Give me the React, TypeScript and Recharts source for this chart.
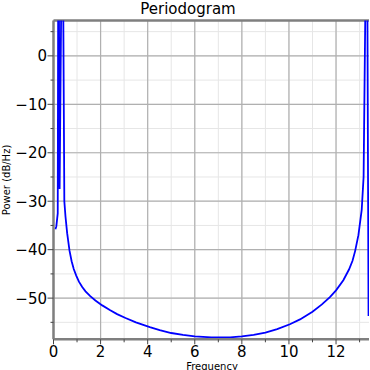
import { CartesianGrid, Line, LineChart, ReferenceLine, XAxis, YAxis } from "recharts";

const freq = [
	0.08, 0.12, 0.18, 0.21, 0.26, 0.38, 0.46, 0.51, 0.58, 0.68, 0.77, 0.86, 0.97,
	1.08, 1.22, 1.36, 1.56, 1.78, 2.07, 2.41, 2.7, 3.06, 3.5, 4.09, 4.51, 5.0,
	5.5, 6.0, 6.7, 7.5, 8.0, 8.5, 9.0, 9.5, 10.04, 10.47, 11.0, 11.4, 11.74,
	12.0, 12.31, 12.55, 12.7, 12.81, 12.95, 13.09, 13.17, 13.31, 13.38,
];
const power = [
	-35.8, -35.2, -32.5, 40, -27.5, 40, -30.0, -33.2, -36.6, -40.2, -42.4, -44.0,
	-45.4, -46.6, -47.7, -48.6, -49.6, -50.5, -51.5, -52.5, -53.3, -54.1, -55.0,
	-56.0, -56.6, -57.2, -57.6, -57.9, -58.1, -58.1, -57.9, -57.6, -57.1, -56.4,
	-55.4, -54.4, -52.8, -51.3, -49.8, -48.4, -46.3, -44.1, -42.3, -40.3, -37.0,
	-31.8, -25, 40, -53.7,
];

const xTicks = [0, 1, 2, 3, 4, 5, 6, 7, 8, 9, 10, 11, 12, 13];
const yTicks = [-55, -50, -45, -40, -35, -30, -25, -20, -15, -10, -5, 0, 5];
const xMajor = [0, 2, 4, 6, 8, 10, 12];
const yMajor = [-50, -40, -30, -20, -10, 0];

const data = freq.map((f, i) => ({ f, power: power[i] }));

const font = "DejaVu Sans";
const spine = "#7f7f7f";

const fmt = (v: number) => (v < 0 ? `\u2212${-v}` : `${v}`);

function XTick({ x, y, payload }: any) {
	const v = payload.value;
	const major = v % 2 === 0;
	return (
		<g>
			<line x1={x} x2={x} y1={y} y2={y + (major ? 5 : 3)} stroke="#444" strokeWidth={1} />
			{major && (
				<text x={x} y={y + 18} textAnchor="middle" fontSize={15} fontFamily={font} fill="#000">
					{v}
				</text>
			)}
		</g>
	);
}

function YTick({ x, y, payload }: any) {
	const v = payload.value;
	const major = v % 10 === 0;
	return (
		<g>
			<line x1={x - (major ? 6 : 3)} x2={x} y1={y} y2={y} stroke="#444" strokeWidth={1} />
			{major && (
				<text x={x - 6.5} y={y + 5.4} textAnchor="end" fontSize={15} fontFamily={font} fill="#000">
					{fmt(v)}
				</text>
			)}
		</g>
	);
}

export default function App() {
	return (
		<div style={{ position: "absolute", left: 0, top: 0, width: 370, height: 370, background: "#fff" }}>
			<LineChart
				width={370}
				height={370}
				data={data}
				margin={{ top: 20.5, right: 1, bottom: 0, left: 0 }}
			>
				<CartesianGrid
					stroke="#e6e6e6"
					strokeWidth={1}
					verticalValues={xTicks}
					horizontalValues={yTicks}
				/>
				<CartesianGrid
					stroke="#b0b0b0"
					strokeWidth={1.2}
					verticalValues={xMajor}
					horizontalValues={yMajor}
				/>
				<XAxis
					dataKey="f"
					type="number"
					domain={[0, 13.4]}
					ticks={xTicks}
					allowDataOverflow
					interval={0}
					tickSize={0}
					tickMargin={0}
					tickLine={false}
					axisLine={{ stroke: spine, strokeWidth: 2.5 }}
					tick={<XTick />}
					height={30.7}
				/>
				<YAxis
					type="number"
					domain={[-58.5, 7.3]}
					ticks={yTicks}
					allowDataOverflow
					interval={0}
					tickSize={0}
					tickMargin={0}
					tickLine={false}
					axisLine={{ stroke: spine, strokeWidth: 2.5 }}
					tick={<YTick />}
					width={53.5}
				/>
				<ReferenceLine y={7.3} stroke={spine} strokeWidth={2.5} />
				<Line
					type="linear"
					dataKey="power"
					stroke="#0000ff"
					strokeWidth={1.8}
					dot={false}
					isAnimationActive={false}
				/>
			</LineChart>
			<svg
				width={370}
				height={370}
				style={{ position: "absolute", left: 0, top: 0, pointerEvents: "none" }}
			>
				<text x={188} y={14} textAnchor="middle" fontSize={15} fontFamily={font} fill="#000">
					Periodogram
				</text>
				<text x={212} y={370} textAnchor="middle" fontSize={10} fontFamily={font} fill="#000">
					Frequency
				</text>
				<text
					x={0}
					y={0}
					transform="translate(9.5 180) rotate(-90)"
					textAnchor="middle"
					fontSize={10}
					fontFamily={font}
					fill="#000"
				>
					Power (dB/Hz)
				</text>
			</svg>
		</div>
	);
}
